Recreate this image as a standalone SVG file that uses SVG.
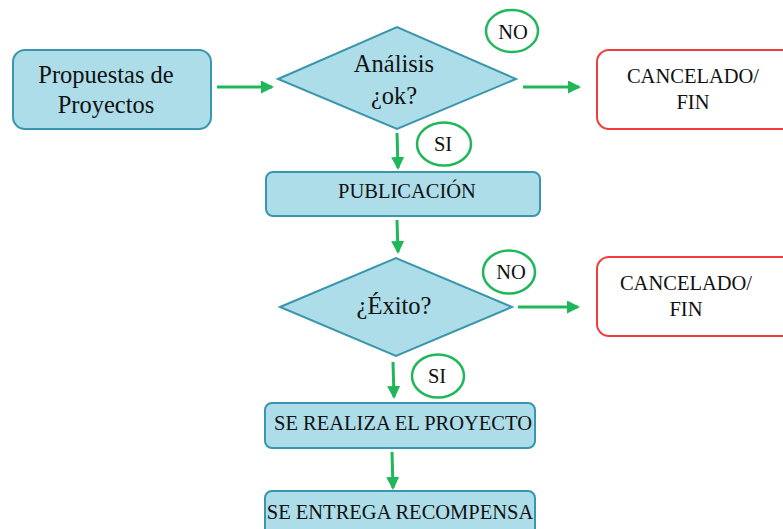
<svg xmlns="http://www.w3.org/2000/svg" width="783" height="529" viewBox="0 0 783 529">
<defs>
<marker id="ah" markerWidth="13" markerHeight="13" refX="11" refY="6.5" orient="auto" markerUnits="userSpaceOnUse" viewBox="0 0 13 13">
<path d="M0,0 L13,6.5 L0,13 z" fill="#1fb75a"/>
</marker>
<style>
.box{fill:#acdde9;stroke:#3a96ac;stroke-width:2}
.end{fill:#ffffff;stroke:#f23c3c;stroke-width:2}
.oval{fill:#ffffff;stroke:#1fb75a;stroke-width:2.5}
.con{stroke:#1fb75a;stroke-width:3;fill:none;marker-end:url(#ah)}
text{font-family:"Liberation Serif","Times New Roman",serif;fill:#111;text-anchor:middle}
.t22{font-size:24.5px}
.t19{font-size:20.5px}
.t18{font-size:20.5px}
</style>
</defs>
<rect width="783" height="529" fill="#ffffff"/>
<g id="connectors">
<line class="con" x1="217" y1="87" x2="272" y2="87"/>
<line class="con" x1="523" y1="87" x2="579" y2="87"/>
<line class="con" x1="397" y1="133" x2="398" y2="168"/>
<line class="con" x1="397" y1="220" x2="398" y2="252"/>
<line class="con" x1="518" y1="307" x2="578" y2="307"/>
<line class="con" x1="393" y1="362" x2="394" y2="397"/>
<line class="con" x1="392" y1="452" x2="393" y2="488"/>
</g>
<g id="propuestas">
<rect class="box" x="13" y="50" width="198" height="79" rx="12"/>
<text class="t22" x="106" y="83">Propuestas de</text>
<text class="t22" x="106" y="113">Proyectos</text>
</g>
<g id="analisis">
<polygon class="box" points="278,79 397,27 516,79 397,129"/>
<text class="t22" x="394" y="72">Análisis</text>
<text class="t22" x="394" y="104">¿ok?</text>
</g>
<g id="no1">
<ellipse class="oval" cx="512" cy="31" rx="26" ry="21"/>
<text class="t18" x="513" y="39">NO</text>
</g>
<g id="cancelado1">
<rect class="end" x="597" y="50" width="200" height="79" rx="12"/>
<text class="t19" x="693" y="83">CANCELADO/</text>
<text class="t19" x="693" y="109">FIN</text>
</g>
<g id="si1">
<ellipse class="oval" cx="444" cy="144" rx="27" ry="21.5"/>
<text class="t18" x="443" y="151">SI</text>
</g>
<g id="publicacion">
<rect class="box" x="266" y="172" width="274" height="44" rx="7"/>
<text class="t18" x="407" y="198">PUBLICACIÓN</text>
</g>
<g id="exito">
<polygon class="box" points="280,307 396,258 512,307 396,356"/>
<text class="t22" x="394" y="314">¿Éxito?</text>
</g>
<g id="no2">
<ellipse class="oval" cx="509" cy="272" rx="26" ry="21.5"/>
<text class="t18" x="511" y="279">NO</text>
</g>
<g id="cancelado2">
<rect class="end" x="597" y="257" width="200" height="79" rx="12"/>
<text class="t19" x="686" y="290">CANCELADO/</text>
<text class="t19" x="686" y="316">FIN</text>
</g>
<g id="si2">
<ellipse class="oval" cx="438" cy="376" rx="26" ry="21.5"/>
<text class="t18" x="437" y="383">SI</text>
</g>
<g id="realiza">
<rect class="box" x="265" y="403" width="270" height="45" rx="7"/>
<text class="t19" x="403" y="430">SE REALIZA EL PROYECTO</text>
</g>
<g id="entrega">
<rect class="box" x="265" y="491" width="270" height="50" rx="7"/>
<text class="t19" x="400" y="519">SE ENTREGA RECOMPENSA</text>
</g>
</svg>
